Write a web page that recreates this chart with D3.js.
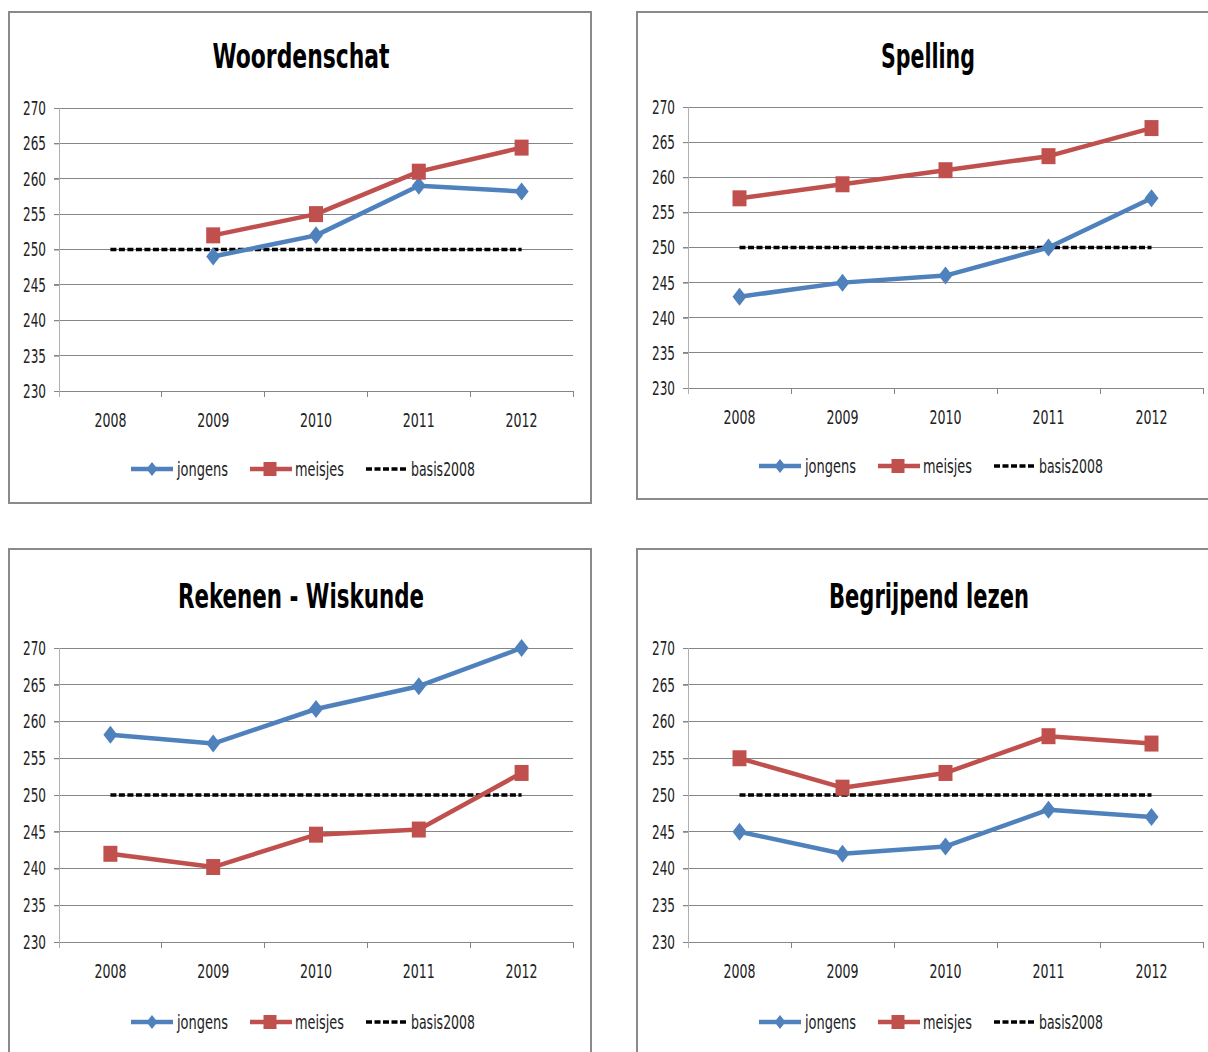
<!DOCTYPE html>
<html><head><meta charset="utf-8">
<script src="https://cdn.jsdelivr.net/npm/d3@7"></script>
<style>body{margin:0;background:#fff}svg{display:block}</style>
</head><body>
<svg id="c" width="1208" height="1052"></svg>
<script>
const years = ["2008","2009","2010","2011","2012"];
const yTicks = [230,235,240,245,250,255,260,265,270];
const seriesNames = ["jongens","meisjes","basis2008"];
const titles = ["Woordenschat","Spelling","Rekenen - Wiskunde","Begrijpend lezen"];
const woordenschatJongens = [null,249,252,259,258.2];
const woordenschatMeisjes = [null,252,255,261,264.4];
const spellingJongens = [243,245,246,250,257];
const spellingMeisjes = [257,259,261,263,267];
const rekenenJongens = [258.2,257,261.7,264.8,270];
const rekenenMeisjes = [242,240.2,244.6,245.3,253];
const lezenJongens = [245,242,243,248,247];
const lezenMeisjes = [255,251,253,258,257];
const basis2008 = [250,250,250,250,250];

const panels = [
  {title:titles[0], j:woordenschatJongens, m:woordenschatMeisjes, box:[9,12,591,503], plot:[59,573,108,391], titleX:301, titleY:68, titleW:177, legY:469, legX:131},
  {title:titles[1], j:spellingJongens, m:spellingMeisjes, box:[637,12,1214,499], plot:[688,1203,107,388], titleX:928, titleY:68, titleW:94, legY:466, legX:759},
  {title:titles[2], j:rekenenJongens, m:rekenenMeisjes, box:[9,549,591,1062], plot:[59,573,648,942], titleX:301, titleY:608, titleW:246, legY:1022, legX:131},
  {title:titles[3], j:lezenJongens, m:lezenMeisjes, box:[637,549,1214,1062], plot:[688,1203,648,942], titleX:929, titleY:608, titleW:200, legY:1022, legX:759}
];
const BLUE="#4F81BD", RED="#C0504D", GRID="#868686";
const FONT="'Liberation Sans Narrow','DejaVu Sans Condensed','Arial Narrow',sans-serif";
const svg = d3.select("#c");

function diamond(sel, w, h){ sel.attr("d",`M0,${-h/2}L${w/2},0L0,${h/2}L${-w/2},0Z`); }

panels.forEach(p=>{
  const g = svg.append("g");
  const [bx0,by0,bx1,by1]=p.box;
  g.append("rect").attr("x",bx0).attr("y",by0).attr("width",bx1-bx0).attr("height",by1-by0)
    .attr("fill","#fff").attr("stroke","#8a8a8a").attr("stroke-width",2);
  const [px0,px1,py0,py1]=p.plot;
  const x = d3.scaleBand().domain(years).range([px0,px1]).padding(0);
  const y = d3.scaleLinear().domain([230,270]).range([py1,py0]);
  g.append("text").attr("x",p.titleX).attr("y",p.titleY).attr("text-anchor","middle")
    .attr("font-family",FONT).attr("font-weight","bold").attr("font-size",33)
    .attr("textLength",p.titleW).attr("lengthAdjust","spacingAndGlyphs").attr("fill","#000").text(p.title);
  g.append("g").selectAll("line").data(yTicks).join("line")
    .attr("x1",px0-5).attr("x2",px1).attr("y1",d=>y(d)).attr("y2",d=>y(d))
    .attr("stroke",GRID).attr("stroke-width",1).attr("shape-rendering","crispEdges");
  const ya = g.append("g").attr("transform",`translate(${px0},0)`)
    .call(d3.axisLeft(y).tickValues(yTicks).tickSize(5).tickPadding(8));
  ya.select(".domain").attr("stroke","#b0b0b0");
  ya.selectAll(".tick line").attr("stroke",GRID);
  ya.selectAll("text").attr("font-family",FONT).attr("font-size",20).attr("fill","#222")
    .attr("textLength",23).attr("lengthAdjust","spacingAndGlyphs");
  const xa = g.append("g").attr("transform",`translate(0,${py1})`)
    .call(d3.axisBottom(x).tickSize(0).tickPadding(22));
  xa.select(".domain").attr("stroke",GRID);
  xa.selectAll("text").attr("font-family",FONT).attr("font-size",20).attr("fill","#222")
    .attr("textLength",32).attr("lengthAdjust","spacingAndGlyphs");
  g.append("g").selectAll("line").data(years.concat(["end"])).join("line")
    .attr("x1",(d,i)=> i<years.length ? x(d) : px1).attr("x2",(d,i)=> i<years.length ? x(d) : px1)
    .attr("y1",py1).attr("y2",py1+6).attr("stroke",GRID).attr("shape-rendering","crispEdges");
  g.append("line").attr("x1",px0).attr("x2",px0).attr("y1",py0).attr("y2",py1+6).attr("stroke","#b0b0b0").attr("shape-rendering","crispEdges");

  const cx = d=>x(d)+x.bandwidth()/2;
  const line = d3.line().defined(d=>d.v!=null).x(d=>cx(d.yr)).y(d=>y(d.v));
  const toPts = arr=>arr.map((v,i)=>({yr:years[i],v}));
  g.append("path").datum(toPts(basis2008)).attr("d",line).attr("fill","none")
    .attr("stroke","#000").attr("stroke-width",3.5).attr("stroke-dasharray","6,2.5");
  [[p.j,BLUE,"d"],[p.m,RED,"s"]].forEach(([arr,col,mk])=>{
    const pts = toPts(arr);
    g.append("path").datum(pts).attr("d",line).attr("fill","none").attr("stroke",col)
      .attr("stroke-width",4.5).attr("stroke-linejoin","round");
    const mg = g.append("g").selectAll("path").data(pts.filter(d=>d.v!=null)).join("path")
      .attr("transform",d=>`translate(${cx(d.yr)},${y(d.v)})`).attr("fill",col);
    if(mk==="d") mg.call(diamond,14,18);
    else mg.attr("d","M-7,-8H7V8H-7Z");
  });
  const lg = g.append("g").attr("transform",`translate(${p.legX},${p.legY})`);
  const items = [{n:seriesNames[0],col:BLUE,mk:"d",x0:0,tx:46,w:51},{n:seriesNames[1],col:RED,mk:"s",x0:119,tx:164,w:49},{n:seriesNames[2],col:"#000",mk:"k",x0:235,tx:280,w:64}];
  items.forEach(it=>{
    const l = lg.append("line").attr("x1",it.x0).attr("x2",it.x0+42).attr("y1",0).attr("y2",0).attr("stroke",it.col);
    if(it.mk==="k") l.attr("stroke-width",3.5).attr("stroke-dasharray","6,2.5");
    else l.attr("stroke-width",4.5);
    if(it.mk==="d") lg.append("path").attr("transform",`translate(${it.x0+21},0)`).attr("fill",it.col).call(diamond,11,14);
    if(it.mk==="s") lg.append("path").attr("transform",`translate(${it.x0+20},0)`).attr("fill",it.col).attr("d","M-6.5,-7H6.5V7H-6.5Z");
    lg.append("text").attr("x",it.tx).attr("y",7).attr("font-family",FONT).attr("font-size",20).attr("fill","#222")
      .attr("textLength",it.w).attr("lengthAdjust","spacingAndGlyphs").text(it.n);
  });
});
</script>
</body></html>
